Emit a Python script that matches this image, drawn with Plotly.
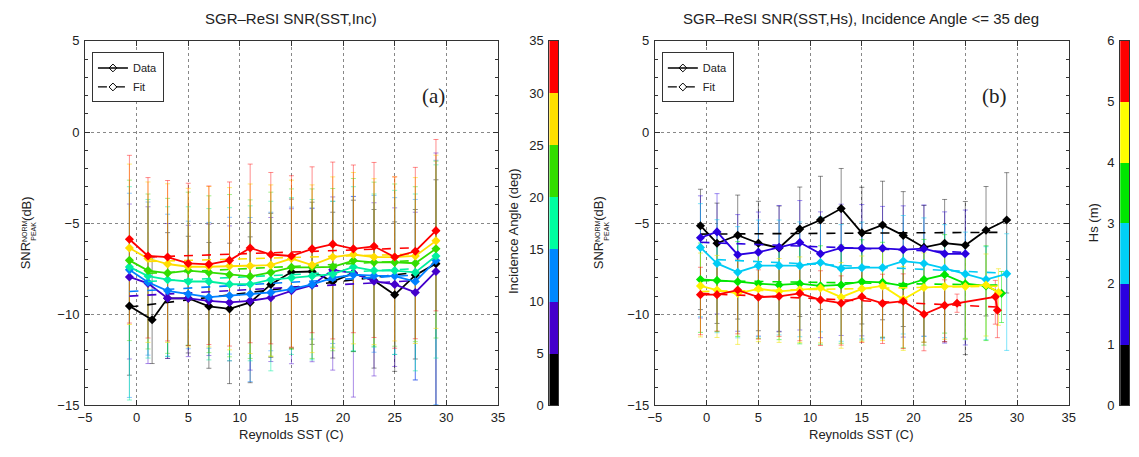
import plotly.graph_objects as go

W, H = 1139, 457

# ---------------- Panel (a): SNR vs SST, binned by incidence angle ----------------
inc_bins = ["0-5", "5-10", "10-15", "15-20", "20-25", "25-30", "30-35"]
inc_colors = ["#000000", "#4400cc", "#0080ff", "#00f0a0", "#33dd00", "#ffdd00", "#ff0000"]
inc_err_colors = ["rgba(0,0,0,0.45)", "rgba(68,0,204,0.45)", "rgba(0,128,255,0.45)",
                  "rgba(0,240,160,0.5)", "rgba(51,221,0,0.45)", "rgba(255,221,0,0.55)",
                  "rgba(255,0,0,0.45)"]

sst_a = [-0.7, 1.1, 3, 5, 7, 9, 11, 13, 15, 17, 19, 21, 23, 25, 27, 29]
sst_a_black = [-0.7, 1.5, 3, 5, 7, 9, 11, 13, 15, 17, 19, 21, 23, 25, 27, 29]

snr_inc00 = [-9.54, -10.30, -9.12, -9.12, -9.56, -9.70, -9.35, -8.36, -7.68, -7.65, -8.20, -7.74, -8.15, -8.93, -7.85, -7.22]
snr_inc05 = [-7.95, -8.30, -9.12, -9.12, -9.26, -9.35, -9.26, -9.09, -8.71, -8.40, -7.56, -7.74, -8.18, -8.36, -8.80, -7.65]
snr_inc10 = [-7.56, -8.24, -8.71, -8.89, -9.06, -8.98, -8.89, -8.80, -8.62, -8.36, -8.00, -7.83, -7.88, -7.90, -8.20, -7.05]
snr_inc15 = [-7.40, -7.90, -8.10, -8.20, -8.20, -8.35, -8.35, -8.10, -8.00, -7.90, -7.80, -7.40, -7.60, -7.60, -7.70, -6.80]
snr_inc20 = [-7.04, -7.60, -7.74, -7.60, -7.70, -7.83, -7.92, -7.70, -7.42, -7.42, -7.40, -7.05, -7.15, -7.15, -7.20, -6.40]
snr_inc25 = [-6.36, -6.94, -7.24, -7.39, -7.39, -7.35, -7.35, -7.30, -6.94, -7.30, -6.86, -6.72, -6.86, -6.86, -6.80, -5.97]
snr_inc30 = [-5.88, -6.80, -6.86, -7.21, -7.26, -7.04, -6.36, -6.72, -6.80, -6.41, -6.15, -6.41, -6.27, -6.86, -6.54, -5.41]

up_inc00 = [3.6, 3.4, 3.6, 3.4, 3.5, 3.6, 3.6, 3.9, 4.0, 3.8, 3.8, 4.0, 3.9, 4.0, 3.6, 4.6]
dn_inc00 = [3.8, 2.4, 3.3, 3.0, 3.4, 4.1, 4.4, 4.0, 4.2, 4.0, 4.2, 4.3, 4.8, 4.2, 4.6, 7.8]
up_inc05 = [4.0, 4.2, 4.1, 4.0, 4.2, 4.2, 4.3, 4.4, 4.5, 4.2, 4.0, 4.2, 4.3, 4.2, 4.4, 6.5]
dn_inc05 = [4.5, 4.4, 3.3, 3.2, 3.0, 3.2, 3.8, 3.5, 4.0, 4.2, 5.5, 6.8, 5.2, 4.5, 4.8, 7.8]
up_inc10 = [4.2, 4.4, 4.2, 4.0, 4.1, 4.3, 4.2, 4.4, 4.5, 4.2, 4.2, 4.3, 4.4, 4.3, 4.5, 5.5]
dn_inc10 = [7.0, 4.0, 3.6, 3.0, 2.8, 3.2, 4.8, 3.2, 3.2, 3.0, 3.6, 4.2, 4.2, 4.3, 5.4, 7.9]
up_inc15 = [4.4, 4.2, 4.0, 4.1, 4.0, 4.2, 4.3, 4.3, 4.4, 4.2, 4.0, 4.4, 4.2, 4.4, 4.3, 5.0]
dn_inc15 = [7.3, 4.5, 4.2, 3.5, 4.3, 4.2, 4.2, 5.0, 4.2, 4.6, 4.0, 4.6, 4.2, 4.6, 5.4, 5.6]
up_inc20 = [4.4, 4.2, 4.1, 4.3, 4.2, 4.4, 4.2, 4.4, 4.3, 4.3, 4.3, 4.5, 4.4, 4.3, 4.2, 4.8]
dn_inc20 = [4.4, 4.3, 4.4, 4.1, 4.4, 4.5, 4.5, 4.6, 4.5, 5.0, 4.6, 5.0, 4.6, 4.6, 4.3, 4.9]
up_inc25 = [4.6, 4.2, 4.4, 4.3, 4.4, 4.3, 4.5, 4.4, 4.3, 4.4, 4.4, 4.5, 4.3, 4.4, 4.3, 4.7]
dn_inc25 = [4.2, 4.6, 4.3, 4.4, 4.4, 4.6, 4.8, 5.0, 4.9, 4.8, 5.0, 4.9, 4.8, 4.6, 4.8, 4.8]
up_inc30 = [4.6, 4.3, 4.2, 4.4, 4.3, 4.3, 4.6, 4.5, 4.4, 4.5, 4.5, 4.6, 4.6, 4.4, 4.6, 5.0]
dn_inc30 = [4.6, 4.5, 4.6, 4.5, 4.4, 4.7, 5.2, 4.9, 5.0, 4.6, 5.2, 4.6, 5.0, 5.0, 4.8, 4.4]

fit_x_a = [[-0.7, 27], [-0.7, 27], [-0.7, 27], [1.1, 27], [1.1, 27], [1.1, 27], [1.1, 27]]
fit_y_a = [[-9.60, -7.70], [-9.00, -8.15], [-8.75, -7.85], [-8.20, -7.50],
           [-7.75, -7.05], [-7.10, -6.70], [-6.86, -6.35]]

# ---------------- Panel (b): SNR vs SST, binned by Hs (inc <= 35 deg) ----------------
hs_bins = ["0-1", "1-2", "2-3", "3-4", "4-5", "5-6"]
hs_colors = ["#000000", "#2a00e0", "#00ccf5", "#00e600", "#fff000", "#ff0000"]
hs_err_colors = ["rgba(0,0,0,0.45)", "rgba(42,0,224,0.45)", "rgba(0,204,245,0.5)",
                 "rgba(0,230,0,0.5)", "rgba(240,230,0,0.55)", "rgba(255,0,0,0.45)"]

sst_b = [-0.6, 1, 3, 5, 7, 9, 11, 13, 15, 17, 19, 21, 23, 25, 27, 29]
sst_b_blue = [-0.6, 1, 3, 5, 7, 9, 11, 13, 15, 17, 19, 21, 23, 25]
sst_b_green = [-0.6, 1, 3, 5, 7, 9, 11, 13, 15, 17, 19, 21, 23, 25, 27, 28.5]
sst_b_yellow = [-0.6, 1, 3, 5, 7, 9, 11, 13, 15, 17, 19, 21, 23, 25, 27, 28.2]
sst_b_red = [-0.6, 1, 3, 5, 7, 9, 11, 13, 15, 17, 19, 21, 23, 24.2, 27.9, 28.1]

snr_hs0 = [-5.14, -6.10, -5.66, -6.10, -6.36, -5.32, -4.83, -4.20, -5.53, -5.10, -5.67, -6.33, -6.10, -6.21, -5.39, -4.83]
snr_hs1 = [-5.80, -5.48, -6.73, -6.59, -6.33, -6.06, -6.68, -6.36, -6.38, -6.38, -6.45, -6.40, -6.68, -6.68]
snr_hs2 = [-6.33, -7.21, -7.69, -7.33, -7.33, -7.33, -7.16, -7.48, -7.44, -7.44, -7.08, -7.21, -7.48, -7.79, -8.09, -7.78]
snr_hs3 = [-8.09, -8.14, -8.21, -8.32, -8.39, -8.32, -8.44, -8.39, -8.21, -8.25, -8.44, -8.09, -7.83, -8.32, -8.44, -8.85]
snr_hs4 = [-8.44, -8.67, -8.85, -8.60, -8.74, -8.65, -8.56, -9.06, -8.60, -8.44, -9.18, -8.53, -8.47, -8.47, -8.39, -8.80]
snr_hs5 = [-8.92, -8.92, -8.67, -9.06, -9.01, -8.85, -9.21, -9.39, -9.04, -9.40, -9.28, -10.00, -9.51, -9.39, -9.04, -9.78]

up_hs0 = [2.0, 2.2, 2.2, 2.3, 2.3, 2.3, 2.4, 2.2, 2.5, 2.4, 2.4, 2.3, 2.4, 2.4, 2.4, 2.6]
dn_hs0 = [4.6, 4.4, 4.6, 4.8, 4.6, 4.8, 4.9, 5.0, 5.0, 5.2, 5.0, 5.2, 5.4, 6.0, 4.7, 4.0]
up_hs1 = [2.3, 2.1, 2.2, 2.2, 2.3, 2.3, 2.3, 2.4, 2.4, 2.3, 2.4, 2.4, 2.3, 2.4]
dn_hs1 = [4.4, 4.5, 4.2, 4.6, 4.6, 4.8, 4.6, 4.8, 4.8, 4.9, 4.8, 4.8, 4.9, 5.0]
up_hs2 = [2.4, 2.4, 2.5, 2.5, 2.5, 2.4, 2.5, 2.4, 2.5, 2.4, 2.5, 2.5, 2.4, 2.3, 1.8, 2.2]
dn_hs2 = [3.8, 3.8, 3.6, 3.9, 3.8, 3.9, 3.8, 4.0, 3.9, 3.9, 4.0, 4.0, 3.8, 3.6, 3.3, 4.2]
up_hs3 = [2.0, 2.1, 2.2, 2.2, 2.1, 2.3, 2.2, 2.2, 2.3, 2.2, 2.1, 2.2, 2.2, 2.2, 2.2, 1.2]
dn_hs3 = [2.9, 2.8, 3.0, 3.0, 3.0, 3.3, 3.2, 3.2, 3.2, 3.0, 3.4, 3.6, 3.2, 3.0, 3.0, 1.6]
up_hs4 = [1.8, 1.9, 1.8, 1.9, 1.8, 1.8, 1.9, 1.9, 1.8, 1.9, 1.8, 1.9, 1.9, 1.8, 1.7, 1.3]
dn_hs4 = [2.8, 2.6, 2.8, 2.9, 2.8, 2.9, 3.0, 2.8, 2.9, 3.0, 2.8, 3.0, 2.9, 2.9, 2.8, 1.8]
up_hs5 = [1.5, 1.6, 1.7, 1.5, 1.6, 1.5, 1.6, 1.5, 1.6, 1.6, 1.5, 1.4, 1.4, 0.5, 0.9, 0.8]
dn_hs5 = [2.2, 2.0, 2.4, 2.3, 2.2, 2.6, 2.5, 2.3, 2.5, 2.2, 2.6, 2.0, 2.0, 0.5, 1.5, 1.5]

fit_x_b = [[-0.6, 29], [-0.6, 25], [1, 29], [-0.6, 28.5], [-0.6, 28.2], [-0.6, 28.1]]
fit_y_b = [[-5.60, -5.50], [-6.05, -6.60], [-7.00, -7.75], [-8.15, -8.40],
           [-8.75, -8.45], [-8.85, -9.60]]

# colour-bar bins
inc_edges = [0, 5, 10, 15, 20, 25, 30, 35]
hs_edges = [0, 1, 2, 3, 4, 5, 6]

series_a = [
    (sst_a_black, snr_inc00, up_inc00, dn_inc00),
    (sst_a, snr_inc05, up_inc05, dn_inc05),
    (sst_a, snr_inc10, up_inc10, dn_inc10),
    (sst_a, snr_inc15, up_inc15, dn_inc15),
    (sst_a, snr_inc20, up_inc20, dn_inc20),
    (sst_a, snr_inc25, up_inc25, dn_inc25),
    (sst_a, snr_inc30, up_inc30, dn_inc30),
]
series_b = [
    (sst_b, snr_hs0, up_hs0, dn_hs0),
    (sst_b_blue, snr_hs1, up_hs1, dn_hs1),
    (sst_b, snr_hs2, up_hs2, dn_hs2),
    (sst_b_green, snr_hs3, up_hs3, dn_hs3),
    (sst_b_yellow, snr_hs4, up_hs4, dn_hs4),
    (sst_b_red, snr_hs5, up_hs5, dn_hs5),
]

FONT = "Liberation Sans, Arial, sans-serif"
fig = go.Figure()


def add_panel(series, colors, ecolors, fx, fy, xa, ya, names):
    # error bars first (behind lines)
    for (x, y, up, dn), ec in zip(series, ecolors):
        fig.add_trace(go.Scatter(
            x=x, y=y, mode="markers", xaxis=xa, yaxis=ya, showlegend=False,
            marker=dict(size=1, color="rgba(0,0,0,0)"),
            error_y=dict(type="data", symmetric=False, array=up, arrayminus=dn,
                         color=ec, thickness=1, width=2.5),
            hoverinfo="skip"))
    for (x, y, up, dn), c, fxx, fyy, nm in zip(series, colors, fx, fy, names):
        fig.add_trace(go.Scatter(
            x=fxx, y=fyy, mode="lines", xaxis=xa, yaxis=ya, showlegend=False,
            line=dict(color=c, width=1.6, dash="dash"), name=nm + " fit"))
        fig.add_trace(go.Scatter(
            x=x, y=y, mode="lines+markers", xaxis=xa, yaxis=ya, showlegend=False,
            line=dict(color=c, width=1.8),
            marker=dict(symbol="diamond", size=7, color=c), name=nm))


add_panel(series_a, inc_colors, inc_err_colors, fit_x_a, fit_y_a, "x", "y", inc_bins)
add_panel(series_b, hs_colors, hs_err_colors, fit_x_b, fit_y_b, "x2", "y2", hs_bins)

# legends ("Data" / "Fit") for both panels
for lg, xa, ya in (("legend", "x", "y"), ("legend2", "x2", "y2")):
    fig.add_trace(go.Scatter(x=[None], y=[None], xaxis=xa, yaxis=ya, name="Data",
                             mode="lines+markers", legend=lg,
                             line=dict(color="black", width=1.5),
                             marker=dict(symbol="diamond-open", size=6, color="black")))
    fig.add_trace(go.Scatter(x=[None], y=[None], xaxis=xa, yaxis=ya, name="Fit",
                             mode="lines+markers", legend=lg,
                             line=dict(color="black", width=1.2, dash="dash"),
                             marker=dict(symbol="diamond-open", size=6, color="black")))


# discrete colour bars as heatmaps
def stepscale(cols):
    n = len(cols)
    sc = []
    for i, c in enumerate(cols):
        sc.append([i / n, c])
        sc.append([(i + 1) / n, c])
    return sc


inc_cb_colors = ["#000000", "#4400cc", "#0088ff", "#00ffa0", "#33dd00", "#ffe000", "#ff0000"]
hs_cb_colors = ["#000000", "#2a00e0", "#00d0f5", "#00e600", "#ffff00", "#ff0000"]

fig.add_trace(go.Heatmap(
    x=[0], y=[(a + b) / 2 for a, b in zip(inc_edges[:-1], inc_edges[1:])],
    z=[[i] for i in range(len(inc_edges) - 1)], xaxis="x3", yaxis="y3",
    colorscale=stepscale(inc_cb_colors), zmin=-0.5, zmax=len(inc_edges) - 1.5,
    showscale=False, hoverinfo="skip"))
fig.add_trace(go.Heatmap(
    x=[0], y=[(a + b) / 2 for a, b in zip(hs_edges[:-1], hs_edges[1:])],
    z=[[i] for i in range(len(hs_edges) - 1)], xaxis="x4", yaxis="y4",
    colorscale=stepscale(hs_cb_colors), zmin=-0.5, zmax=len(hs_edges) - 1.5,
    showscale=False, hoverinfo="skip"))

ydom = [1 - 412 / H, 1 - 35 / H]
axis_common = dict(showline=True, linecolor="#333", linewidth=1, mirror="ticks",
                   ticks="inside", tickcolor="#333", zeroline=False,
                   tickfont=dict(family=FONT, size=13, color="#222"))
xcommon = dict(range=[-5, 35], dtick=5, tick0=0, ticklen=5, showgrid=True,
               gridcolor="#888", griddash="dot", gridwidth=1,
               **axis_common)
ycommon = dict(range=[-15, 5], dtick=5, tick0=0, ticklen=5, showgrid=True,
               gridcolor="#888", griddash="dot", gridwidth=1, ticklabelstandoff=2,
               minor=dict(dtick=1, ticks="inside", ticklen=3, tickcolor="#333", showgrid=False),
               **axis_common)
cbx = dict(showline=True, linecolor="#333", mirror=True, showticklabels=False,
           ticks="", showgrid=False, zeroline=False, range=[-0.5, 0.5])
cby = dict(showline=True, linecolor="#333", mirror=True, ticks="", showgrid=False,
           zeroline=False, ticklabelstandoff=2,
           tickfont=dict(family=FONT, size=13, color="#222"))

legend_common = dict(yanchor="top", xanchor="left", bordercolor="#333", borderwidth=1,
                     bgcolor="white", font=dict(family=FONT, size=11, color="#222"),
                     tracegroupgap=0, itemwidth=30)

fig.update_layout(
    width=W, height=H, margin=dict(l=0, r=0, t=0, b=0),
    paper_bgcolor="white", plot_bgcolor="white",
    xaxis=dict(domain=[79 / W, 497 / W], anchor="y", **xcommon),
    yaxis=dict(domain=ydom, anchor="x", **ycommon),
    xaxis2=dict(domain=[656 / W, 1075 / W], anchor="y2", **xcommon),
    yaxis2=dict(domain=ydom, anchor="x2", **ycommon),
    xaxis3=dict(domain=[549 / W, 558 / W], anchor="y3", **cbx),
    yaxis3=dict(domain=ydom, anchor="x3", range=[0, 35], dtick=5, **cby),
    xaxis4=dict(domain=[1127 / W, 1136 / W], anchor="y4", **cbx),
    yaxis4=dict(domain=ydom, anchor="x4", range=[0, 6], dtick=1, **cby),
    legend=dict(x=86 / W, y=1 - 47 / H, **legend_common),
    legend2=dict(x=663 / W, y=1 - 47 / H, **legend_common),
    showlegend=True,
)

ann = []


def txt(x, y, s, size=13, angle=0, family=FONT, xanchor="center"):
    ann.append(dict(x=x / W, y=1 - y / H, xref="paper", yref="paper", text=s,
                    showarrow=False, textangle=angle, xanchor=xanchor, yanchor="middle",
                    font=dict(family=family, size=size, color="#222")))


txt(288, 12, "SGR–ReSI SNR(SST,Inc)", 15)
txt(865, 12, "SGR–ReSI SNR(SST,Hs), Incidence Angle <= 35 deg", 15)
txt(288, 442, "Reynolds SST (C)", 13)
txt(865, 442, "Reynolds SST (C)", 13)
txt(432, 92, "(a)", 21, family="Liberation Serif, Times New Roman, serif")
txt(1000, 92, "(b)", 21, family="Liberation Serif, Times New Roman, serif")
txt(513, 232, "Incidence Angle (deg)", 13, -90)
txt(1100, 223, "Hs (m)", 13, -90)
for x0 in (19, 599):
    txt(x0, 257, "SNR", 13, -90)
    txt(x0 + 4, 232, "NORM<br>PEAK", 7, -90)
    txt(x0, 208, "(dB)", 13, -90)
fig.update_layout(annotations=ann)

fig.write_html("out.html")
